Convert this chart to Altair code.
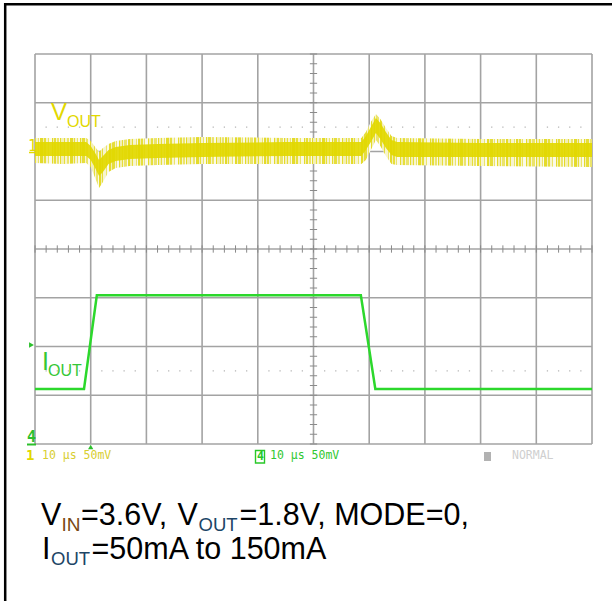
import altair as alt
import pandas as pd

# Graticule: 10 us/div over 10 divisions, 8 vertical divisions
X_GRID = [0, 10, 20, 30, 40, 50, 60, 70, 80, 90, 100]      # us
Y_GRID = [-4, -3, -2, -1, 0, 1, 2, 3, 4]                   # div

# Channel 1 (VOUT, AC coupled, 50 mV/div), referenced to its marker
VOUT_REF_DIV = 2.0
VOUT_MV_PER_DIV = 50.0
vout_t = [0, 5, 9.2, 10.0, 10.8, 11.5, 12.2, 13.2, 14.5, 17, 22, 30, 45,
          58.6, 59.4, 60.3, 61.2, 62.0, 63.0, 64.0, 65, 80, 100]
vout_core_hi = [9.7, 9.7, 9.7, 5.6, -1.5, -8.7, -4.6, 1.5, 4.6, 6.7, 7.7, 8.7, 9.7,
                9.7, 15.9, 25.1, 34.4, 29.2, 20.0, 11.8, 9.7, 8.7, 8.7]
vout_core_lo = [-4.6, -4.6, -4.6, -8.7, -16.9, -25.1, -21.0, -12.8, -9.7, -7.7, -6.7, -5.6, -4.6,
                -4.6, 1.5, 9.7, 19.0, 12.8, 3.6, -3.6, -5.6, -5.6, -5.6]
vout_env_hi = [13.9, 13.9, 13.9, 10.8, 4.6, -0.5, 3.6, 7.7, 10.8, 12.8, 13.9, 14.9, 13.9,
               13.9, 20.0, 30.3, 38.5, 33.3, 24.1, 15.9, 13.9, 12.8, 12.8]
vout_env_lo = [-11.8, -12.8, -11.8, -15.9, -27.2, -37.4, -31.3, -21.0, -16.9, -14.9, -13.9, -12.8, -12.8,
               -12.8, -8.7, 1.5, 11.8, 5.6, -4.6, -12.8, -13.9, -14.9, -15.9]

# Channel 4 (IOUT load step 50 mA -> 150 mA -> 50 mA)
IOUT_ZERO_DIV = -3.83
IOUT_MA_PER_DIV = 52.1
iout_t = [0, 8.8, 11.1, 58.5, 61.1, 100]
iout_ma = [50, 50, 150, 150, 50, 50]

YELLOW = "#e2d800"
GREEN = "#2cd82c"
GRID = "#a3a3a3"

xs = alt.Scale(domain=[0, 100], range=[35, 592], nice=False, zero=False)
ys = alt.Scale(domain=[-4, 4], range=[444, 54], nice=False, zero=False)


def X(f):
    return alt.X(f, type="quantitative", scale=xs, axis=None)


def Y(f):
    return alt.Y(f, type="quantitative", scale=ys, axis=None)


# hairline texture for the noisy fringe of the ripple trace
STRIPE_WIDTHS = [1, 2, 1, 1, 3, 1, 2, 2, 1, 3, 1, 1, 2]
STRIPE_TONES = ["#e6de3a", "#f7f4cf", "#ebe46a", "#fbfae8", "#e4db2a", "#f3efb5"]
stops = []
pos, k = 0, 0
TOTAL_PX = 557
while pos < TOTAL_PX:
    w = STRIPE_WIDTHS[k % len(STRIPE_WIDTHS)]
    tone = STRIPE_TONES[k % len(STRIPE_TONES)]
    stops.append(alt.GradientStop(color=tone, offset=pos / TOTAL_PX))
    pos += w
    stops.append(alt.GradientStop(color=tone, offset=min(pos, TOTAL_PX) / TOTAL_PX))
    k += 1
fringe = alt.Gradient(gradient="linear", stops=stops, x1=0, x2=1, y1=0, y2=0)

# ---- graticule ----
vgrid = pd.DataFrame({"t": X_GRID, "lo": -4, "hi": 4})
hgrid = pd.DataFrame({"d": Y_GRID, "t0": 0, "t1": 100})
vlines = alt.Chart(vgrid).mark_rule(color=GRID, strokeWidth=1.6).encode(
    x=X("t"), y=Y("lo"), y2="hi")
hlines = alt.Chart(hgrid).mark_rule(color=GRID, strokeWidth=1.6).encode(
    y=Y("d"), x=X("t0"), x2="t1")

minor_t = [2 * k for k in range(51)]
minor_d = [round(-4 + 0.2 * k, 2) for k in range(41)]
xticks = alt.Chart(pd.DataFrame({"t": minor_t, "a": -0.075, "b": 0.075})).mark_rule(
    color="#8a8a8a", strokeWidth=1).encode(x=X("t"), y=Y("a"), y2="b")
yticks = alt.Chart(pd.DataFrame({"d": minor_d, "a": 49.35, "b": 50.65})).mark_rule(
    color="#8a8a8a", strokeWidth=1).encode(y=Y("d"), x=X("a"), x2="b")

dot_t = [t for t in minor_t if t % 10 != 0]
dots = pd.DataFrame({"t": dot_t * 2, "d": [2.5] * len(dot_t) + [-2.5] * len(dot_t)})
dotted = alt.Chart(dots).mark_square(size=1.6, color="#b5b5b5", opacity=1).encode(
    x=X("t"), y=Y("d"))

# ---- channel 1 trace ----
vdf = pd.DataFrame({
    "t": vout_t,
    "env_hi": [VOUT_REF_DIV + v / VOUT_MV_PER_DIV for v in vout_env_hi],
    "env_lo": [VOUT_REF_DIV + v / VOUT_MV_PER_DIV for v in vout_env_lo],
    "core_hi": [VOUT_REF_DIV + v / VOUT_MV_PER_DIV for v in vout_core_hi],
    "core_lo": [VOUT_REF_DIV + v / VOUT_MV_PER_DIV for v in vout_core_lo],
})
v_env = alt.Chart(vdf).mark_area(color=fringe, opacity=1).encode(
    x=X("t"), y=Y("env_lo"), y2="env_hi")
v_core = alt.Chart(vdf).mark_area(color=YELLOW, opacity=0.92).encode(
    x=X("t"), y=Y("core_lo"), y2="core_hi")

# ---- channel 4 trace ----
idf = pd.DataFrame({"t": iout_t,
                    "d": [IOUT_ZERO_DIV + i / IOUT_MA_PER_DIV for i in iout_ma]})
i_line = alt.Chart(idf).mark_line(color=GREEN, strokeWidth=2.5).encode(
    x=X("t"), y=Y("d"))


# ---- annotations ----
def label(s, x, y, size, color, font="Liberation Sans", weight="normal", align="left"):
    return alt.Chart(pd.DataFrame({"s": [s]})).mark_text(
        align=align, baseline="alphabetic", font=font, fontSize=size,
        fontWeight=weight, color=color
    ).encode(x=alt.value(x), y=alt.value(y), text="s:N")


MONO = "DejaVu Sans Mono"
texts = [
    label("V", 51, 120, 24, YELLOW),
    label("OUT", 67, 127, 16, YELLOW),
    label("I", 42, 370, 25, "#36c736"),
    label("OUT", 48, 376, 16, "#36c736"),
    label("1", 28, 151, 15, YELLOW, font=MONO),
    label("4", 27, 442, 15, "#2cc02c", font=MONO, weight="bold"),
    label("1", 26, 460, 14, YELLOW, font=MONO, weight="bold"),
    label("10 µs 50mV", 42, 459, 11.5, "#d8ce30", font=MONO),
    label("4", 257, 460, 11.5, "#28c828", font=MONO, weight="bold"),
    label("10 µs 50mV", 270, 459, 11.5, "#30c830", font=MONO),
    label("NORMAL", 512, 459, 11.5, "#cfcfcf", font=MONO),
    # test conditions
    label("V", 41, 525, 30.5, "#000000"),
    label("IN", 61.5, 531, 19, "#7a4a14"),
    label("=3.6V,", 81, 525, 30.5, "#000000"),
    label("V", 177.5, 525, 30.5, "#000000"),
    label("OUT", 198.5, 531, 18.5, "#1d4566"),
    label("=1.8V, MODE=0,", 239.5, 525, 30.5, "#000000"),
    label("I", 42, 559, 30.5, "#000000"),
    label("OUT", 51, 565, 18.5, "#1d4566"),
    label("=50mA to 150mA", 91.5, 559, 30.5, "#000000"),
]

one = pd.DataFrame({"k": [0]})
box4 = alt.Chart(one).mark_rect(fill="white", stroke="#28c828", strokeWidth=1.4).encode(
    x=alt.value(255.5), x2=alt.value(264.5), y=alt.value(450.5), y2=alt.value(463))
gray_sq = alt.Chart(one).mark_rect(fill="#b2b2b2").encode(
    x=alt.value(484), x2=alt.value(491), y=alt.value(452), y2=alt.value(461))
ch4_underline = alt.Chart(one).mark_rule(color="#2cc02c", strokeWidth=2).encode(
    x=alt.value(27), x2=alt.value(36), y=alt.value(444.5))
ch1_underline = alt.Chart(one).mark_rule(color=YELLOW, strokeWidth=1.5).encode(
    x=alt.value(29), x2=alt.value(36), y=alt.value(152.5))
trig = alt.Chart(one).mark_point(shape="triangle-up", filled=True, size=28,
                                 color="#2cc02c", opacity=1).encode(
    x=alt.value(90.7), y=alt.value(447))
ch4_arrow = alt.Chart(one).mark_point(shape="triangle-right", filled=True, size=32,
                                      color="#2cc02c", opacity=1).encode(
    x=alt.value(31.5), y=alt.value(345))

frame_top = alt.Chart(one).mark_rule(color="#000000", strokeWidth=2.5).encode(
    x=alt.value(4), x2=alt.value(612), y=alt.value(4.3))
frame_left = alt.Chart(one).mark_rule(color="#000000", strokeWidth=2.5).encode(
    x=alt.value(5.2), y=alt.value(3), y2=alt.value(601))

chart = alt.layer(
    vlines, hlines, xticks, yticks, dotted,
    v_env, v_core, i_line,
    box4, gray_sq, ch4_underline, ch1_underline, trig, ch4_arrow,
    *texts,
    frame_top, frame_left,
).properties(
    width=612, height=601, padding=0, autosize="none", background="white"
).configure_view(strokeWidth=0)

chart.save("out.html", embed_options={"renderer": "svg", "actions": False})
